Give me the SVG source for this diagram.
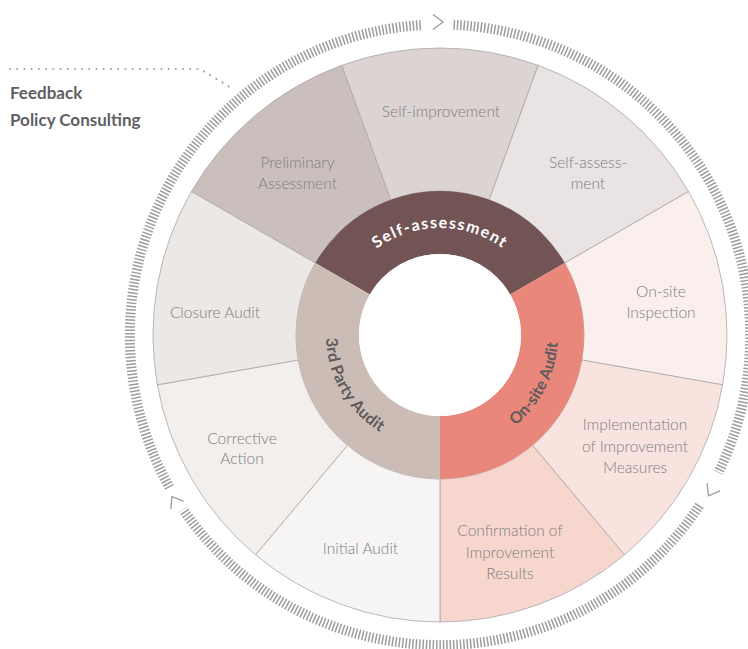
<svg xmlns="http://www.w3.org/2000/svg" width="748" height="649" viewBox="0 0 748 649">
<style>
.seg{stroke:#a9a7aa;stroke-width:0.8}
.lbl{font-family:Lato,"Open Sans","Liberation Sans",sans-serif;font-weight:300;font-size:15.5px;fill:#7e7d82;text-anchor:middle}
.ring{font-family:Lato,"Open Sans","Liberation Sans",sans-serif;font-weight:700;font-size:16px}
.ticks{fill:none;stroke:#9c9ca1;stroke-width:10;stroke-dasharray:1.5 1.9}
.chev{fill:none;stroke:#9c9ca1;stroke-width:1.3}
.legend{font-family:Lato,"Open Sans","Liberation Sans",sans-serif;font-weight:700;font-size:17px;fill:#5f5f63}
</style>
<defs>
<path id="tpSelf" d="M 347.33,281.5 A 107 107 0 0 1 532.67,281.5"/>
<path id="tpThird" d="M 341.27,278 A 114 114 0 0 0 440,449"/>
<path id="tpOnsite" d="M 440,453 A 118 118 0 0 0 535.46,265.64"/>
</defs>
<rect width="748" height="649" fill="#ffffff"/>
<g id="tick-ring">
<path class="ticks" d="M 453.54,24.8 A 311 311 0 0 1 718.36,472.57"/>
<path class="ticks" d="M 699.52,505.47 A 311 311 0 0 1 183.19,509.53"/>
<path class="ticks" d="M 169.49,487.42 A 311 311 0 0 1 421.04,25.08"/>
<path class="chev" transform="translate(438,22)" d="M -5 -7.5 L 5 0 L -5 7.5"/>
<path class="chev" transform="translate(711.07,491.5) rotate(120)" d="M -5 -7.5 L 5 0 L -5 7.5"/>
<path class="chev" transform="translate(174.56,500.86) rotate(238)" d="M -5 -7.5 L 5 0 L -5 7.5"/>
</g>
<g id="connectors">
<path d="M 10,69 L 200,69 L 233,89" fill="none" stroke="#9d9da1" stroke-width="2" stroke-linecap="round" stroke-dasharray="0.01 7.2"/>
</g>
<g id="legend">
<text class="legend" x="10" y="99">Feedback</text>
<text class="legend" x="10" y="126">Policy Consulting</text>
</g>
<g id="seg-preliminary">
<path class="seg" fill="#cbbfbe" d="M 315.29,263 L 191.45,191.5 A 287 287 0 0 1 341.84,65.31 L 390.75,199.68 A 144 144 0 0 0 315.29,263 Z"/>
<text class="lbl" x="297.5" y="168">Preliminary</text>
<text class="lbl" x="297.5" y="189">Assessment</text>
</g>
<g id="seg-self-improvement">
<path class="seg" fill="#dcd3d3" d="M 390.75,199.68 L 341.84,65.31 A 287 287 0 0 1 538.16,65.31 L 489.25,199.68 A 144 144 0 0 0 390.75,199.68 Z"/>
<text class="lbl" x="441" y="116.5">Self-improvement</text>
</g>
<g id="seg-self-assessment">
<path class="seg" fill="#e9e3e3" d="M 489.25,199.68 L 538.16,65.31 A 287 287 0 0 1 688.55,191.5 L 564.71,263 A 144 144 0 0 0 489.25,199.68 Z"/>
<text class="lbl" x="588" y="168">Self-assess-</text>
<text class="lbl" x="588" y="189">ment</text>
</g>
<g id="seg-onsite-inspection">
<path class="seg" fill="#fbefed" d="M 564.71,263 L 688.55,191.5 A 287 287 0 0 1 722.64,384.84 L 581.81,360.01 A 144 144 0 0 0 564.71,263 Z"/>
<text class="lbl" x="661" y="297">On-site</text>
<text class="lbl" x="661" y="318">Inspection</text>
</g>
<g id="seg-implementation">
<path class="seg" fill="#f9e3de" d="M 581.81,360.01 L 722.64,384.84 A 287 287 0 0 1 624.48,554.85 L 532.56,445.31 A 144 144 0 0 0 581.81,360.01 Z"/>
<text class="lbl" x="635" y="430">Implementation</text>
<text class="lbl" x="635" y="451.5">of Improvement</text>
<text class="lbl" x="635" y="472.5">Measures</text>
</g>
<g id="seg-confirmation">
<path class="seg" fill="#f7d6cd" d="M 532.56,445.31 L 624.48,554.85 A 287 287 0 0 1 440,622 L 440,479 A 144 144 0 0 0 532.56,445.31 Z"/>
<text class="lbl" x="510" y="536">Confirmation of</text>
<text class="lbl" x="510" y="557.5">Improvement</text>
<text class="lbl" x="510" y="578.5">Results</text>
</g>
<g id="seg-initial-audit">
<path class="seg" fill="#f6f5f3" d="M 440,479 L 440,622 A 287 287 0 0 1 255.52,554.85 L 347.44,445.31 A 144 144 0 0 0 440,479 Z"/>
<text class="lbl" x="360.5" y="553.5">Initial Audit</text>
</g>
<g id="seg-corrective-action">
<path class="seg" fill="#f2efec" d="M 347.44,445.31 L 255.52,554.85 A 287 287 0 0 1 157.36,384.84 L 298.19,360.01 A 144 144 0 0 0 347.44,445.31 Z"/>
<text class="lbl" x="242" y="443.5">Corrective</text>
<text class="lbl" x="242" y="464">Action</text>
</g>
<g id="seg-closure-audit">
<path class="seg" fill="#ece8e5" d="M 298.19,360.01 L 157.36,384.84 A 287 287 0 0 1 191.45,191.5 L 315.29,263 A 144 144 0 0 0 298.19,360.01 Z"/>
<text class="lbl" x="215" y="317.5">Closure Audit</text>
</g>
<g id="ring-self-assessment">
<path fill="#735455" d="M 315.29,263 A 144 144 0 0 1 564.71,263 L 510.15,294.5 A 81 81 0 0 0 369.85,294.5 Z"/>
<text class="ring" fill="#ffffff" letter-spacing="1.4"><textPath href="#tpSelf" startOffset="50%" text-anchor="middle">Self-assessment</textPath></text>
</g>
<g id="ring-onsite-audit">
<path fill="#ea877b" d="M 564.71,263 A 144 144 0 0 1 440,479 L 440,416 A 81 81 0 0 0 510.15,294.5 Z"/>
<text class="ring" fill="#5e5a5c"><textPath href="#tpOnsite" startOffset="50%" text-anchor="middle">On-site Audit</textPath></text>
</g>
<g id="ring-third-party-audit">
<path fill="#cbbdb5" d="M 440,479 A 144 144 0 0 1 315.29,263 L 369.85,294.5 A 81 81 0 0 0 440,416 Z"/>
<text class="ring" fill="#5e5a5c" letter-spacing="0.3"><textPath href="#tpThird" startOffset="50%" text-anchor="middle">3rd Party Audit</textPath></text>
</g>
<circle id="hub" cx="440" cy="335" r="81" fill="#ffffff"/>
</svg>
